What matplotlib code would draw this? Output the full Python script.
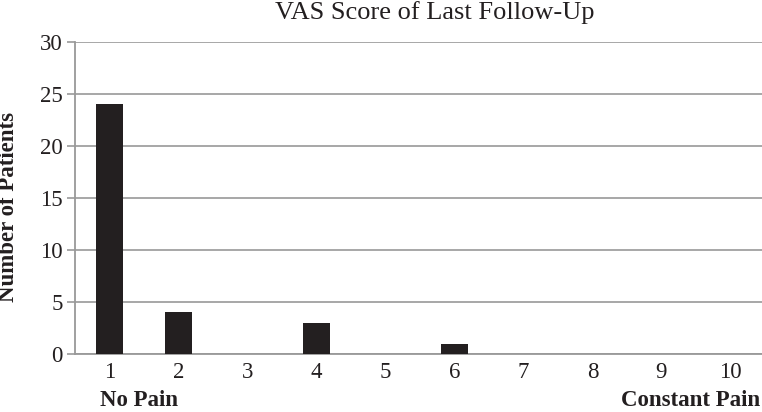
import matplotlib
matplotlib.use("Agg")
import matplotlib.pyplot as plt

categories = ["1", "2", "3", "4", "5", "6", "7", "8", "9", "10"]
patients = [24, 4, 0, 3, 0, 1, 0, 0, 0, 0]
yticks = [0, 5, 10, 15, 20, 25, 30]

plt.rcParams['font.family'] = ['Liberation Serif', 'DejaVu Serif']

W, H = 762, 412
fig = plt.figure(figsize=(W/100, H/100), dpi=100)
ax = fig.add_axes([75/W, 1 - 354/H, 690/W, (354-42)/H])

x = list(range(len(categories)))
ax.bar(x, patients, width=0.39, color="#231f20", zorder=3)
ax.set_xlim(-0.5, len(categories) - 0.5)
ax.set_ylim(0, 30)
ax.set_yticks(yticks)
ax.set_yticklabels([str(v) for v in yticks], fontsize=16.5, color="#231f20")
ax.set_xticks(x)
ax.set_xticklabels(categories, fontsize=16.5, color="#231f20")
ax.tick_params(axis='x', length=0, pad=6)
ax.tick_params(axis='y', length=6, width=1.2, color="#999999", pad=3)
ax.yaxis.grid(True, color="#a0a0a0", linewidth=1.3, zorder=0)
for s in ['top', 'right']:
    ax.spines[s].set_visible(False)
for s in ['left', 'bottom']:
    ax.spines[s].set_color("#999999")
    ax.spines[s].set_linewidth(1.3)

fig.text(435/W, 1 - 13/H, "VAS Score of Last Follow-Up", ha='center', va='center',
         fontsize=19, color="#231f20")
fig.text(9/W, 1 - 207/H, "Number of Patients", rotation=90, ha='center', va='center',
         fontsize=16.5, fontweight='bold', color="#231f20")
fig.text(100/W, 1 - 406/H, "No Pain", ha='left', va='baseline',
         fontsize=16.5, fontweight='bold', color="#231f20")
fig.text(760/W, 1 - 406/H, "Constant Pain", ha='right', va='baseline',
         fontsize=16.5, fontweight='bold', color="#231f20")

fig.savefig("out.png", dpi=100, facecolor="white")
